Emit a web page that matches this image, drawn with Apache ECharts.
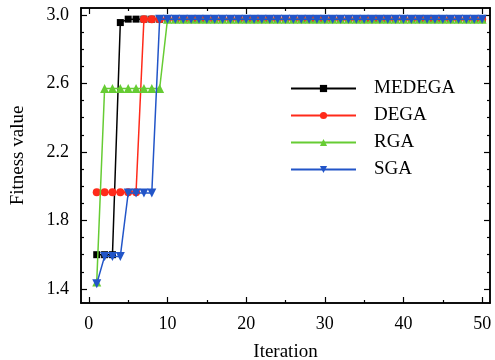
<!DOCTYPE html>
<html><head><meta charset="utf-8">
<script src="https://cdn.jsdelivr.net/npm/echarts@6/dist/echarts.min.js"></script>
<style>html,body{margin:0;padding:0;background:#fff}#c{width:495px;height:360px}</style>
</head><body><div id="c"></div>
<script>
var iterations = [1,2,3,4,5,6,7,8,9,10,11,12,13,14,15,16,17,18,19,20,21,22,23,24,25,26,27,28,29,30,31,32,33,34,35,36,37,38,39,40,41,42,43,44,45,46,47,48,49,50];
var MEDEGA = [1.60,1.60,1.60,2.955,2.975,2.975,2.975,2.975,2.975,2.975,2.975,2.975,2.975,2.975,2.975,2.975,2.975,2.975,2.975,2.975,2.975,2.975,2.975,2.975,2.975,2.975,2.975,2.975,2.975,2.975,2.975,2.975,2.975,2.975,2.975,2.975,2.975,2.975,2.975,2.975,2.975,2.975,2.975,2.975,2.975,2.975,2.975,2.975,2.975,2.975];
var DEGA = [1.965,1.965,1.965,1.965,1.965,1.965,2.975,2.975,2.975,2.975,2.975,2.975,2.975,2.975,2.975,2.975,2.975,2.975,2.975,2.975,2.975,2.975,2.975,2.975,2.975,2.975,2.975,2.975,2.975,2.975,2.975,2.975,2.975,2.975,2.975,2.975,2.975,2.975,2.975,2.975,2.975,2.975,2.975,2.975,2.975,2.975,2.975,2.975,2.975,2.975];
var RGA = [1.44,2.57,2.57,2.57,2.57,2.57,2.57,2.57,2.57,2.975,2.975,2.975,2.975,2.975,2.975,2.975,2.975,2.975,2.975,2.975,2.975,2.975,2.975,2.975,2.975,2.975,2.975,2.975,2.975,2.975,2.975,2.975,2.975,2.975,2.975,2.975,2.975,2.975,2.975,2.975,2.975,2.975,2.975,2.975,2.975,2.975,2.975,2.975,2.975,2.975];
var SGA = [1.43,1.59,1.59,1.59,1.96,1.96,1.96,1.96,2.975,2.975,2.975,2.975,2.975,2.975,2.975,2.975,2.975,2.975,2.975,2.975,2.975,2.975,2.975,2.975,2.975,2.975,2.975,2.975,2.975,2.975,2.975,2.975,2.975,2.975,2.975,2.975,2.975,2.975,2.975,2.975,2.975,2.975,2.975,2.975,2.975,2.975,2.975,2.975,2.975,2.975];
var xMajorTicks = [0,10,20,30,40,50];
var xMinorTicks = [5,15,25,35,45];
var yMajorTicks = [1.4,1.8,2.2,2.6,3.0];
var yMinorTicks = [1.5,1.6,1.7,1.9,2.0,2.1,2.3,2.4,2.5,2.7,2.8,2.9];
var seriesNames = ['MEDEGA','DEGA','RGA','SGA'];

var FONT = 'Liberation Serif';
var X_MIN = -1, X_MAX = 51, Y_MIN = 1.318, Y_MAX = 3.04;
var lineCol = '#000';

function xAx(pos, ticks, len, labels, name) {
  return {
    type: 'value', position: pos, min: X_MIN, max: X_MAX,
    name: name || '', nameLocation: 'middle', nameGap: 40,
    nameTextStyle: {fontFamily: FONT, fontSize: 19, color: '#000'},
    axisLine: {show: true, onZero: false, lineStyle: {color: lineCol, width: 1.5}},
    axisTick: {show: true, inside: true, length: len, customValues: ticks, lineStyle: {color: lineCol, width: 1.2}},
    axisLabel: {show: labels, customValues: ticks, margin: 12, fontFamily: FONT, fontSize: 18, color: '#000'},
    splitLine: {show: false}
  };
}
function yAx(pos, ticks, len, labels, name) {
  return {
    type: 'value', position: pos, min: Y_MIN, max: Y_MAX,
    name: name || '', nameLocation: 'middle', nameGap: 53,
    nameTextStyle: {fontFamily: FONT, fontSize: 19, color: '#000'},
    axisLine: {show: true, onZero: false, lineStyle: {color: lineCol, width: 1.5}},
    axisTick: {show: true, inside: true, length: len, customValues: ticks, lineStyle: {color: lineCol, width: 1.2}},
    axisLabel: {show: labels, customValues: ticks, margin: 12, fontFamily: FONT, fontSize: 18, color: '#000',
      formatter: function(v){ return v.toFixed(1); }},
    splitLine: {show: false}
  };
}

var colors = ['#000000', '#ff2a1a', '#66cc33', '#2255c8'];
var symbols = ['rect', 'circle', 'triangle', 'path://M0,0 L10,0 L5,9 Z'];
var sizes = [7, 8, 9, 9];
var dataSets = [MEDEGA, DEGA, RGA, SGA];

var series = seriesNames.map(function(n, i){
  return {
    name: n, type: 'line', xAxisIndex: 0, yAxisIndex: 0,
    data: iterations.map(function(x, k){ return [x, dataSets[i][k]]; }),
    symbol: symbols[i], symbolSize: sizes[i], showSymbol: true,
    lineStyle: {color: colors[i], width: 1.5},
    itemStyle: {color: colors[i]},
    z: 2 + i
  };
});

var chart = echarts.init(document.getElementById('c'), null, {renderer: 'canvas'});
chart.setOption({
  animation: false,
  backgroundColor: '#fff',
  grid: {left: 81, right: 5, top: 8, bottom: 57, containLabel: false, outerBoundsMode: 'none'},
  legend: {
    data: seriesNames, orient: 'vertical', left: 290, top: 79, padding: 0,
    itemWidth: 65, itemHeight: 9, itemGap: 8,
    textStyle: {fontFamily: FONT, fontSize: 19, color: '#000', padding: [0,0,0,13]}
  },
  xAxis: [
    xAx('bottom', xMajorTicks, 6, true, 'Iteration'),
    xAx('bottom', xMinorTicks, 3, false),
    xAx('top', xMajorTicks, 6, false),
    xAx('top', xMinorTicks, 3, false)
  ],
  yAxis: [
    yAx('left', yMajorTicks, 6, true, 'Fitness value'),
    yAx('left', yMinorTicks, 3, false),
    yAx('right', yMajorTicks, 6, false),
    yAx('right', yMinorTicks, 3, false)
  ],
  series: series
});
</script></body></html>
